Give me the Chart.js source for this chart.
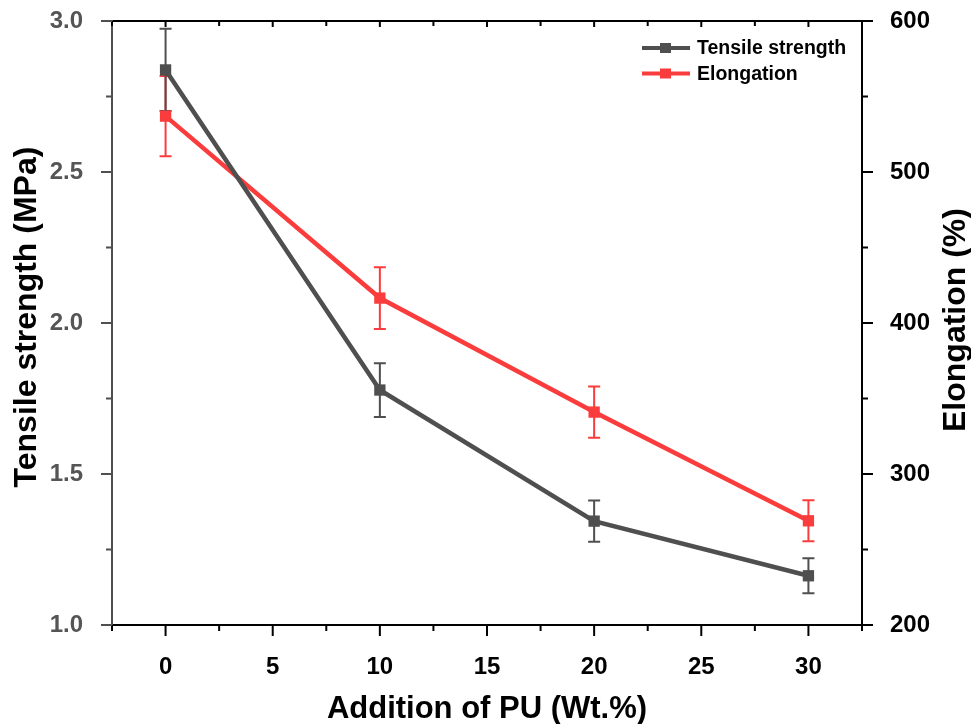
<!DOCTYPE html>
<html>
<head>
<meta charset="utf-8">
<script src="https://cdn.jsdelivr.net/npm/chart.js@4"></script>
<style>
  html, body { margin: 0; padding: 0; background: #fff; }
  #wrap { width: 971px; height: 724px; }
</style>
</head>
<body>
<div id="wrap"><canvas id="chart" width="971" height="724"></canvas></div>
<script>
// data
const puAddition = [0, 10, 20, 30];
const tensileStrength = [2.838, 1.778, 1.344, 1.163];
const tensileError = [0.136, 0.089, 0.068, 0.058];
const elongation = [537, 416.5, 341, 269];
const elongationError = [26.5, 20.5, 17, 13.6];

const xTickValues = [0, 5, 10, 15, 20, 25, 30];
const leftTickValues = [1.0, 1.5, 2.0, 2.5, 3.0];
const rightTickValues = [200, 300, 400, 500, 600];

const xTitle = 'Addition of PU (Wt.%)';
const leftTitle = 'Tensile strength (MPa)';
const rightTitle = 'Elongation (%)';

const GREY = '#4f4f4f';
const RED = '#fa3c3c';
const FONT = "'Liberation Sans', Arial, sans-serif";

// error bars, drawn under the lines
const errorBars = {
    id: 'errorBars',
    beforeDatasetsDraw(chart) {
        const ctx = chart.ctx;
        const xs = chart.scales.x;
        const sets = [
            { y: chart.scales.y2, vals: elongation, err: elongationError, color: RED },
            { y: chart.scales.y, vals: tensileStrength, err: tensileError, color: GREY }
        ];
        ctx.save();
        ctx.lineWidth = 2;
        sets.forEach(s => {
            ctx.strokeStyle = s.color;
            s.vals.forEach((v, i) => {
                const px = xs.getPixelForValue(puAddition[i]);
                const top = s.y.getPixelForValue(v + s.err[i]);
                const bot = s.y.getPixelForValue(v - s.err[i]);
                ctx.beginPath();
                ctx.moveTo(px, top); ctx.lineTo(px, bot);
                ctx.moveTo(px - 6, top); ctx.lineTo(px + 6, top);
                ctx.moveTo(px - 6, bot); ctx.lineTo(px + 6, bot);
                ctx.stroke();
            });
        });
        ctx.restore();
    }
};

// frame box with major and minor ticks, plus the axis titles
const frameTicks = {
    id: 'frameTicks',
    afterDraw(chart) {
        const ctx = chart.ctx;
        const a = chart.chartArea;
        const xs = chart.scales.x, yl = chart.scales.y, yr = chart.scales.y2;
        ctx.save();
        ctx.lineWidth = 2;
        ctx.strokeStyle = '#000';
        ctx.beginPath();
        ctx.moveTo(a.left, a.top); ctx.lineTo(a.right, a.top);
        ctx.lineTo(a.right, a.bottom); ctx.lineTo(a.left - 11, a.bottom);
        ctx.stroke();
        ctx.strokeStyle = GREY;
        ctx.beginPath();
        ctx.moveTo(a.left, a.top - 1); ctx.lineTo(a.left, a.bottom);
        ctx.stroke();

        ctx.strokeStyle = '#000';
        ctx.beginPath();
        for (let v = -2.5; v <= 32.5; v += 2.5) {
            const px = xs.getPixelForValue(v);
            const major = v % 5 === 0;
            ctx.moveTo(px, a.bottom); ctx.lineTo(px, a.bottom + (major ? 11 : 6));
            ctx.moveTo(px, a.top); ctx.lineTo(px, a.top + (major ? 6 : 5));
        }
        for (let v = 200; v <= 600; v += 50) {
            const py = yr.getPixelForValue(v);
            ctx.moveTo(a.right, py); ctx.lineTo(a.right + (v % 100 === 0 ? 11 : 6), py);
        }
        ctx.stroke();
        ctx.strokeStyle = GREY;
        ctx.beginPath();
        for (let v = 1.0; v <= 3.001; v += 0.25) {
            const py = yl.getPixelForValue(v);
            const major = Math.abs(v * 2 - Math.round(v * 2)) < 1e-6;
            ctx.moveTo(a.left, py); ctx.lineTo(a.left - (major ? 11 : 6), py);
        }
        ctx.stroke();

        // axis titles (both vertical ones read bottom to top)
        ctx.fillStyle = '#000';
        ctx.textAlign = 'center';
        ctx.textBaseline = 'alphabetic';
        ctx.font = 'bold 31px ' + FONT;
        ctx.fillText(xTitle, (a.left + a.right) / 2, 718);
        ctx.font = 'bold 32px ' + FONT;
        ctx.save();
        ctx.translate(36, 317);
        ctx.rotate(-Math.PI / 2);
        ctx.fillText(leftTitle, 0, 0);
        ctx.restore();
        ctx.save();
        ctx.translate(965, 320);
        ctx.rotate(-Math.PI / 2);
        ctx.fillText(rightTitle, 0, 0);
        ctx.restore();
        ctx.restore();
    }
};

// legend in the upper right corner: line + square marker + label
const lineLegend = {
    id: 'lineLegend',
    afterDraw(chart) {
        const ctx = chart.ctx;
        const items = chart.data.datasets.map(d => ({ label: d.label, color: d.borderColor }));
        ctx.save();
        ctx.font = 'bold 19.5px ' + FONT;
        ctx.textBaseline = 'middle';
        items.forEach((it, i) => {
            const y = 48 + i * 25.5;
            ctx.strokeStyle = it.color;
            ctx.lineWidth = 4;
            ctx.beginPath();
            ctx.moveTo(642, y); ctx.lineTo(690, y);
            ctx.stroke();
            ctx.fillStyle = it.color;
            ctx.fillRect(660, y - 5, 11, 10);
            ctx.fillStyle = '#000';
            ctx.fillText(it.label, 697, y + 1);
        });
        ctx.restore();
    }
};

function fixedTicks(values) {
    return scale => { scale.ticks = values.map(v => ({ value: v })); };
}

new Chart(document.getElementById('chart'), {
    type: 'line',
    data: {
        datasets: [
            {
                label: 'Tensile strength',
                data: puAddition.map((x, i) => ({ x: x, y: tensileStrength[i] })),
                yAxisID: 'y',
                borderColor: GREY,
                backgroundColor: GREY,
                borderWidth: 4.5,
                pointStyle: 'rect',
                pointRadius: 8,
                pointBorderWidth: 0,
                tension: 0
            },
            {
                label: 'Elongation',
                data: puAddition.map((x, i) => ({ x: x, y: elongation[i] })),
                yAxisID: 'y2',
                borderColor: RED,
                backgroundColor: RED,
                borderWidth: 4.5,
                pointStyle: 'rect',
                pointRadius: 8,
                pointBorderWidth: 0,
                tension: 0
            }
        ]
    },
    options: {
        responsive: false,
        animation: false,
        layout: { padding: { top: 21, right: 0, bottom: 0, left: 0 } },
        plugins: {
            legend: { display: false },
            tooltip: { enabled: false }
        },
        scales: {
            x: {
                type: 'linear',
                min: -2.5,
                max: 32.5,
                afterBuildTicks: fixedTicks(xTickValues),
                afterFit: s => { s.height = 99; s.paddingLeft = 0; s.paddingRight = 0; },
                grid: { display: false },
                border: { display: false },
                ticks: {
                    color: '#000',
                    padding: 20,
                    maxRotation: 0,
                    font: { family: FONT, size: 24, weight: 'bold' }
                }
            },
            y: {
                position: 'left',
                min: 1,
                max: 3,
                afterBuildTicks: fixedTicks(leftTickValues),
                afterFit: s => { s.width = 112; s.paddingTop = 0; s.paddingBottom = 0; },
                grid: { display: false },
                border: { display: false },
                ticks: {
                    color: '#555',
                    padding: 21,
                    callback: v => v.toFixed(1),
                    font: { family: FONT, size: 24, weight: 'bold' }
                }
            },
            y2: {
                position: 'right',
                min: 200,
                max: 600,
                afterBuildTicks: fixedTicks(rightTickValues),
                afterFit: s => { s.width = 109; s.paddingTop = 0; s.paddingBottom = 0; },
                grid: { display: false },
                border: { display: false },
                ticks: {
                    color: '#000',
                    padding: 20,
                    font: { family: FONT, size: 24, weight: 'bold' }
                }
            }
        }
    },
    plugins: [errorBars, frameTicks, lineLegend]
});
</script>
</body>
</html>
